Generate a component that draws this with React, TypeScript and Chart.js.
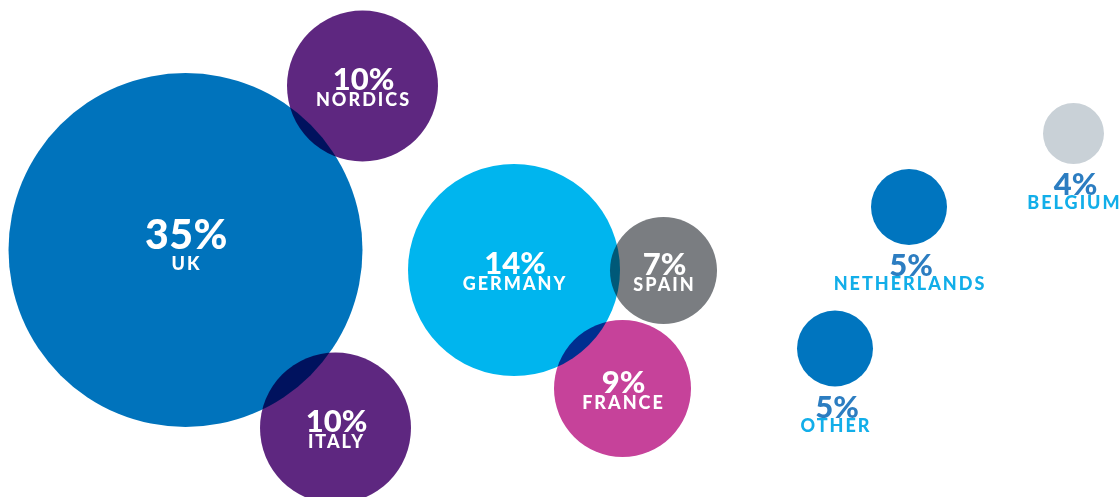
import React, { useEffect, useRef } from "react";
import { Chart, registerables } from "chart.js";

Chart.register(...registerables);

const categories = ["UK", "NORDICS", "ITALY", "GERMANY", "SPAIN", "FRANCE", "NETHERLANDS", "OTHER", "BELGIUM"];
const shares = [35, 10, 10, 14, 7, 9, 5, 5, 4];
const xValues = [185.5, 362.5, 335.5, 514, 663.5, 622.5, 909, 835, 1073.5];
const yValues = [250, 86, 428, 270, 270.5, 388.5, 207, 348.5, 133.5];
const bubbleR = [177, 75.5, 75.5, 106, 53.5, 68.5, 38, 38, 30.5];
const insideLabel = [true, true, true, true, true, true, false, false, false];
const colors = ["#0073BC", "#5E2780", "#5E2780", "#00B5EE", "#7A7D81", "#C6429A", "#0075BF", "#0075BF", "#C9D1D7"];

const W = 1119;
const H = 497;
const FONT = "Lato, 'Open Sans', sans-serif";

const multiplyPlugin = {
  id: "multiplyBlend",
  beforeDatasetsDraw(chart: any) {
    chart.ctx.save();
    chart.ctx.globalCompositeOperation = "multiply";
  },
  afterDatasetsDraw(chart: any) {
    chart.ctx.restore();
  },
};

const labelPlugin = {
  id: "bubbleLabels",
  afterDraw(chart: any) {
    const ctx = chart.ctx;
    const meta = chart.getDatasetMeta(0);
    ctx.save();
    ctx.textAlign = "center";
    ctx.textBaseline = "alphabetic";
    meta.data.forEach((el: any, i: number) => {
      const x = el.x;
      const y = el.y;
      const r = bubbleR[i];
      const pct = shares[i] + "%";
      const name = categories[i];
      if (insideLabel[i]) {
        const big = i === 0;
        ctx.fillStyle = "#FFFFFF";
        ctx.font = `900 ${big ? 41 : 31}px ${FONT}`;
        (ctx as any).letterSpacing = big ? "0.5px" : "0px";
        ctx.fillText(pct, x + 1, y + (big ? -1 : 4));
        ctx.font = `900 18px ${FONT}`;
        (ctx as any).letterSpacing = "2px";
        ctx.fillText(name, x + 1, y + 20);
      } else {
        ctx.fillStyle = "#2C7DC1";
        ctx.font = `900 31px ${FONT}`;
        (ctx as any).letterSpacing = "0px";
        ctx.fillText(pct, x + 2, y + r + 31);
        ctx.fillStyle = "#12AEE9";
        ctx.font = `900 18px ${FONT}`;
        (ctx as any).letterSpacing = "2px";
        ctx.fillText(name, x + 1, y + r + 45);
      }
    });
    ctx.restore();
  },
};

export default function App() {
  const ref = useRef<HTMLCanvasElement>(null);
  useEffect(() => {
    document.body.style.margin = "0";
    const canvas = ref.current!;
    const chart = new Chart(canvas, {
      type: "bubble",
      data: {
        labels: categories,
        datasets: [
          {
            data: categories.map((_, i) => ({ x: xValues[i], y: yValues[i], r: bubbleR[i] })),
            backgroundColor: colors,
            borderWidth: 0,
            hoverBorderWidth: 0,
            clip: false as any,
          },
        ],
      },
      options: {
        responsive: false,
        animation: false,
        devicePixelRatio: 1,
        layout: { padding: 0, autoPadding: false },
        plugins: { legend: { display: false }, tooltip: { enabled: false } },
        events: [],
        scales: {
          x: { type: "linear", min: 0, max: W, display: false },
          y: { type: "linear", min: 0, max: H, reverse: true, display: false },
        },
      },
      plugins: [multiplyPlugin, labelPlugin],
    });
    return () => chart.destroy();
  }, []);
  return (
    <div style={{ position: "absolute", left: 0, top: 0, width: W, height: H, background: "#FFFFFF" }}>
      <canvas ref={ref} width={W} height={H} />
    </div>
  );
}
